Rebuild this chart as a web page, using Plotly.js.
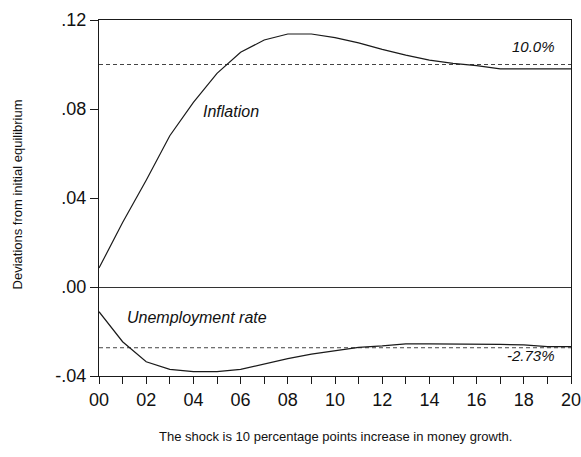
<!DOCTYPE html>
<html><head><meta charset="utf-8">
<script src="https://cdn.plot.ly/plotly-3.0.1.min.js"></script>
<style>html,body{margin:0;padding:0;background:#fff}</style>
</head><body>
<div id="chart" style="width:581px;height:457px"></div>
<script>
var years = [0,1,2,3,4,5,6,7,8,9,10,11,12,13,14,15,16,17,18,19,20];
var yearLabels = ["00","","02","","04","","06","","08","","10","","12","","14","","16","","18","","20"];
var inflation = [0.0085,0.029,0.048,0.068,0.083,0.096,0.1055,0.111,0.1137,0.1137,0.1121,0.1097,0.1068,0.1042,0.102,0.1005,0.0995,0.098,0.098,0.098,0.098];
var unemployment = [-0.0111,-0.0246,-0.0336,-0.037,-0.038,-0.038,-0.037,-0.0345,-0.0322,-0.0302,-0.0286,-0.0271,-0.0265,-0.0256,-0.0256,-0.0256,-0.0256,-0.0258,-0.026,-0.0268,-0.0268];
var inflationSteady = 0.10;
var unemploymentSteady = -0.0273;
var yTickVals = [-0.04,0,0.04,0.08,0.12];
var yTickText = ["-.04",".00",".04",".08",".12"];

var font = "Arial, 'Liberation Sans', sans-serif";
var lineCol = "#1a1a1a";
var traces = [
  {x: years, y: years.map(function(){return inflationSteady;}), mode:"lines", line:{color:"#444", width:1, dash:"4px,3px"}, hoverinfo:"skip"},
  {x: years, y: years.map(function(){return unemploymentSteady;}), mode:"lines", line:{color:"#444", width:1, dash:"4px,3px"}, hoverinfo:"skip"},
  {x: years, y: inflation, mode:"lines", line:{color:lineCol, width:1.2}},
  {x: years, y: unemployment, mode:"lines", line:{color:lineCol, width:1.2}}
];
var layout = {
  width:581, height:457,
  margin:{l:99, r:10, t:20, b:81},
  showlegend:false,
  paper_bgcolor:"#fff", plot_bgcolor:"#fff",
  font:{family:font, color:"#111"},
  xaxis:{range:[0,20], tickvals:years, ticktext:yearLabels, ticks:"outside", ticklen:7, tickcolor:lineCol,
    showline:true, linecolor:lineCol, linewidth:1, mirror:true, showgrid:false, zeroline:false,
    ticklabeloverflow:"allow", automargin:false,
    tickfont:{size:18, family:font, color:"#111"}},
  yaxis:{range:[-0.04,0.12], tickvals:yTickVals, ticktext:yTickText, ticks:"outside", ticklen:8, tickcolor:lineCol,
    showline:true, linecolor:lineCol, linewidth:1, mirror:true, showgrid:false,
    zeroline:true, zerolinecolor:"#333", zerolinewidth:1, automargin:false,
    tickfont:{size:18, family:font, color:"#111"}},
  annotations:[
    {xref:"paper", yref:"paper", x:-0.1737, y:0.51, text:"Deviations from initial equilibrium", textangle:-90, showarrow:false, xanchor:"center", yanchor:"middle", font:{size:13, family:font, color:"#111"}},
    {xref:"paper", yref:"paper", x:0.5, y:-0.171, text:"The shock is 10 percentage points increase in money growth.", showarrow:false, xanchor:"center", yanchor:"middle", font:{size:13, family:font, color:"#111"}},
    {x:5.6, y:0.0791, text:"<i>Inflation</i>", showarrow:false, xanchor:"center", yanchor:"middle", font:{size:16, family:font, color:"#111"}},
    {x:4.17, y:-0.0135, text:"<i>Unemployment rate</i>", showarrow:false, xanchor:"center", yanchor:"middle", font:{size:16, family:font, color:"#111"}},
    {x:19.4, y:0.108, text:"<i>10.0%</i>", showarrow:false, xanchor:"right", yanchor:"middle", font:{size:15, family:font, color:"#111"}},
    {x:19.4, y:-0.0306, text:"<i>-2.73%</i>", showarrow:false, xanchor:"right", yanchor:"middle", font:{size:15, family:font, color:"#111"}}
  ]
};
Plotly.newPlot("chart", traces, layout, {displayModeBar:false, staticPlot:true});
</script>
</body></html>
